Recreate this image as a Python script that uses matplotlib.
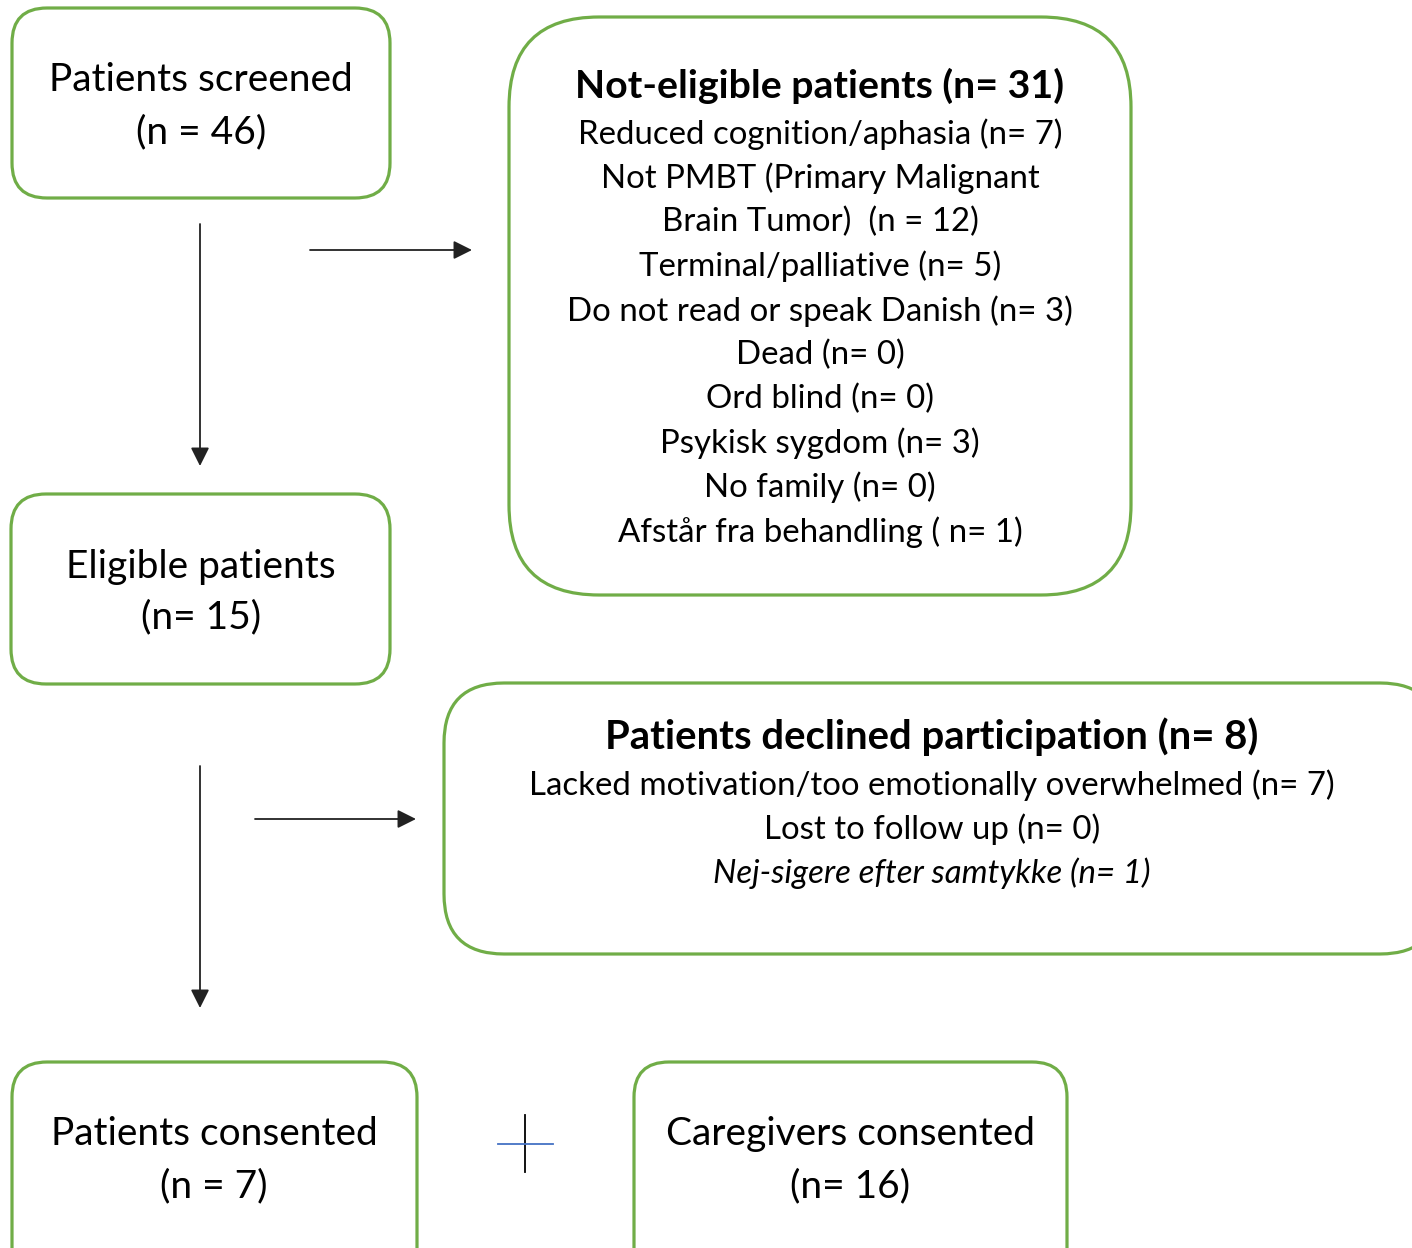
import matplotlib.pyplot as plt
from matplotlib.patches import FancyBboxPatch

# box contents
screened = ["Patients screened", "(n = 46)"]
eligible = ["Eligible patients", "(n= 15)"]
not_eligible_title = "Not-eligible patients (n= 31)"
not_eligible_reasons = [
    "Reduced cognition/aphasia (n= 7)",
    "Not PMBT (Primary Malignant",
    "Brain Tumor)  (n = 12)",
    "Terminal/palliative (n= 5)",
    "Do not read or speak Danish (n= 3)",
    "Dead (n= 0)",
    "Ord blind (n= 0)",
    "Psykisk sygdom (n= 3)",
    "No family (n= 0)",
    "Afstår fra behandling ( n= 1)",
]
declined_title = "Patients declined participation (n= 8)"
declined_reasons = [
    "Lacked motivation/too emotionally overwhelmed (n= 7)",
    "Lost to follow up (n= 0)",
]
declined_italic = "Nej-sigere efter samtykke (n= 1)"
pat_consented = ["Patients consented", "(n = 7)"]
care_consented = ["Caregivers consented", "(n= 16)"]

W, H = 1412, 1248
green = '#70AD47'
plt.rcParams['font.family'] = ['Lato', 'DejaVu Sans']

fig = plt.figure(figsize=(W / 100, H / 100), dpi=100)
ax = fig.add_axes([0, 0, 1, 1])
ax.set_xlim(0, W)
ax.set_ylim(H, 0)
ax.axis('off')


def box(x0, y0, x1, y1, r):
    p = FancyBboxPatch((x0, y0), x1 - x0, y1 - y0,
                       boxstyle=f"round,pad=0,rounding_size={r}",
                       fc='white', ec=green, lw=2.3, clip_on=True)
    ax.add_patch(p)


def lines(x, y0, dy, items, size, **kw):
    for i, t in enumerate(items):
        ax.text(x, y0 + i * dy, t, ha='center', va='center',
                fontsize=size, color='black', **kw)


def arrow(x0, y0, x1, y1):
    ax.annotate('', xy=(x1, y1), xytext=(x0, y0),
                arrowprops=dict(arrowstyle='-|>', color='#222222', lw=1.3,
                                mutation_scale=28, shrinkA=0, shrinkB=0))


# boxes
box(12, 8, 390, 198, 35)
box(509, 17, 1131, 595, 90)
box(11, 494, 390, 684, 35)
box(444, 683, 1440, 954, 60)
box(12, 1062, 417, 1290, 35)
box(634, 1062, 1067, 1290, 35)

# texts
lines(201, 80, 52, screened, 28)
lines(201, 567, 50, eligible, 28)
ax.text(820, 86, not_eligible_title, ha='center', va='center',
        fontsize=28.3, fontweight='bold')
lines(820, 134, 44.2, not_eligible_reasons, 23.8)
ax.text(932, 737, declined_title, ha='center', va='center',
        fontsize=28.8, fontweight='bold')
lines(932, 785, 44, declined_reasons, 23.8)
ax.text(932, 873, declined_italic, ha='center', va='center',
        fontsize=23.8, style='italic')
lines(214, 1134, 52, pat_consented, 28)
lines(850, 1134, 52, care_consented, 28)

# arrows
arrow(200, 224, 200, 466)
arrow(310, 250, 472, 250)
arrow(200, 766, 200, 1008)
arrow(255, 819, 416, 819)

# plus sign
ax.plot([525, 525], [1115, 1172], color='black', lw=1.3)
ax.plot([498, 553], [1144, 1144], color='#4472C4', lw=1.3)

fig.savefig('out.png', dpi=100)
